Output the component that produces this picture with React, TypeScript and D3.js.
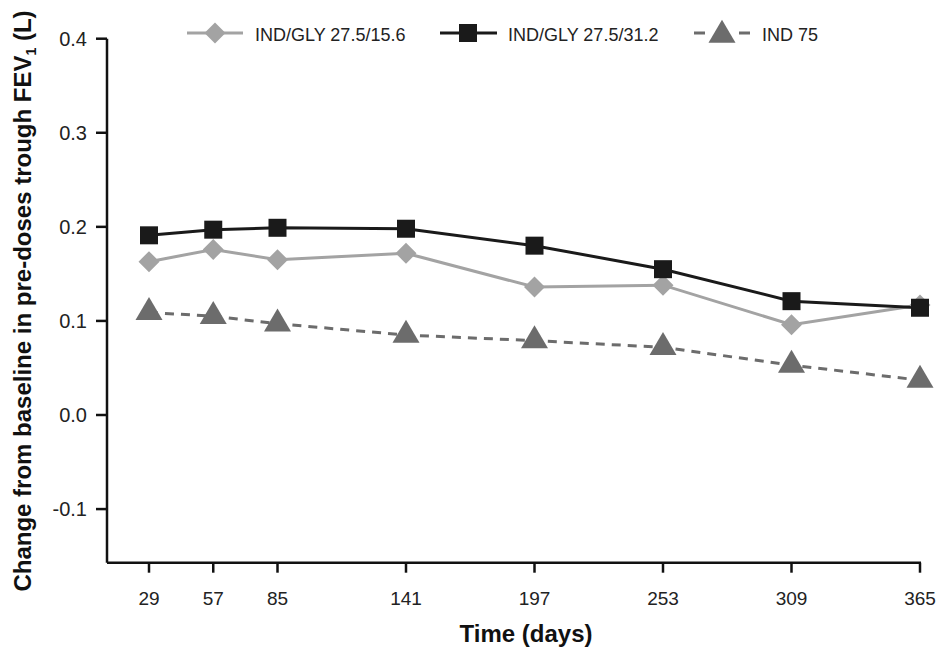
import React from "react";
import * as d3 from "d3";

const days = [29, 57, 85, 141, 197, 253, 309, 365];
const glyLow = [0.163, 0.176, 0.165, 0.172, 0.136, 0.138, 0.096, 0.117];
const glyHigh = [0.191, 0.197, 0.199, 0.198, 0.18, 0.155, 0.121, 0.114];
const ind75 = [0.109, 0.105, 0.097, 0.085, 0.079, 0.072, 0.053, 0.037];
const yTicks = [-0.1, 0.0, 0.1, 0.2, 0.3, 0.4];
const seriesNames = ["IND/GLY 27.5/15.6", "IND/GLY 27.5/31.2", "IND 75"];

const W = 937;
const H = 652;
const FONT = "'Liberation Sans', Arial, Helvetica, sans-serif";

export default function App() {
  const x = d3.scaleLinear().domain([29, 365]).range([149, 920]);
  const y = d3.scaleLinear().domain([0, 0.4]).range([415, 38.7]);
  const yBottom = y(-0.157);
  const axisLeft = 107;

  const line = (vals: number[]) =>
    d3.line<number>().x((_, i) => x(days[i])).y((v) => y(v))(vals) || "";

  const diamond = (cx: number, cy: number, r = 10.5) =>
    `M${cx},${cy - r}L${cx + r},${cy}L${cx},${cy + r}L${cx - r},${cy}Z`;
  const tri = (cx: number, cy: number, w = 27, h = 23) =>
    `M${cx},${cy - (h * 2) / 3}L${cx + w / 2},${cy + h / 3}L${cx - w / 2},${cy + h / 3}Z`;

  const cLow = "#a3a3a3";
  const cHigh = "#1a1a1a";
  const cInd = "#6c6c6c";

  return (
    <svg width={W} height={H} style={{ position: "absolute", left: 0, top: 0, background: "#fff" }} fontFamily={FONT}>
      {/* axes */}
      <line x1={axisLeft} x2={axisLeft} y1={y(0.4)} y2={yBottom} stroke="#111" strokeWidth={2.5} />
      <line x1={axisLeft} x2={x(365) + 1} y1={yBottom} y2={yBottom} stroke="#111" strokeWidth={2.5} />
      {yTicks.map((t) => (
        <g key={t}>
          <line x1={axisLeft - 11} x2={axisLeft} y1={y(t)} y2={y(t)} stroke="#111" strokeWidth={2.5} />
          <text x={87} y={y(t)} dy="0.36em" textAnchor="end" fontSize={20} fill="#222">
            {t.toFixed(1)}
          </text>
        </g>
      ))}
      {days.map((d) => (
        <g key={d}>
          <line x1={x(d)} x2={x(d)} y1={yBottom} y2={yBottom + 10} stroke="#111" strokeWidth={2.5} />
          <text x={x(d)} y={605} textAnchor="middle" fontSize={19} fill="#222">
            {d}
          </text>
        </g>
      ))}
      <text x={526} y={642} textAnchor="middle" fontSize={24} fontWeight="bold" fill="#111">
        Time (days)
      </text>
      <text
        transform={`translate(31,301) rotate(-90)`}
        textAnchor="middle"
        fontSize={24}
        fontWeight="bold"
        fill="#111"
      >
        Change from baseline in pre-doses trough FEV
        <tspan fontSize={14} dy={5}>1</tspan>
        <tspan dy={-5}> (L)</tspan>
      </text>

      {/* series lines */}
      <path d={line(ind75)} fill="none" stroke={cInd} strokeWidth={3} strokeDasharray="9,7" />
      <path d={line(glyLow)} fill="none" stroke={cLow} strokeWidth={3} />
      <path d={line(glyHigh)} fill="none" stroke={cHigh} strokeWidth={3} />

      {ind75.map((v, i) => (
        <path key={"t" + i} d={tri(x(days[i]), y(v))} fill={cInd} />
      ))}
      {glyLow.map((v, i) => (
        <path key={"d" + i} d={diamond(x(days[i]), y(v))} fill={cLow} />
      ))}
      {glyHigh.map((v, i) => (
        <rect key={"s" + i} x={x(days[i]) - 9} y={y(v) - 9} width={18} height={18} fill={cHigh} />
      ))}

      {/* legend */}
      <g>
        <line x1={187} x2={243} y1={33} y2={33} stroke={cLow} strokeWidth={3} />
        <path d={diamond(215, 33)} fill={cLow} />
        <text x={255} y={40.5} fontSize={18} fill="#222">{seriesNames[0]}</text>

        <line x1={440} x2={497} y1={33} y2={33} stroke={cHigh} strokeWidth={3} />
        <rect x={459} y={24} width={18} height={18} fill={cHigh} />
        <text x={508} y={40.5} fontSize={18} fill="#222">{seriesNames[1]}</text>

        <line x1={694} x2={750} y1={33} y2={33} stroke={cInd} strokeWidth={3} strokeDasharray="11,34" />
        <path d={tri(722, 35)} fill={cInd} />
        <text x={762} y={40.5} fontSize={18} fill="#222">{seriesNames[2]}</text>
      </g>
    </svg>
  );
}
